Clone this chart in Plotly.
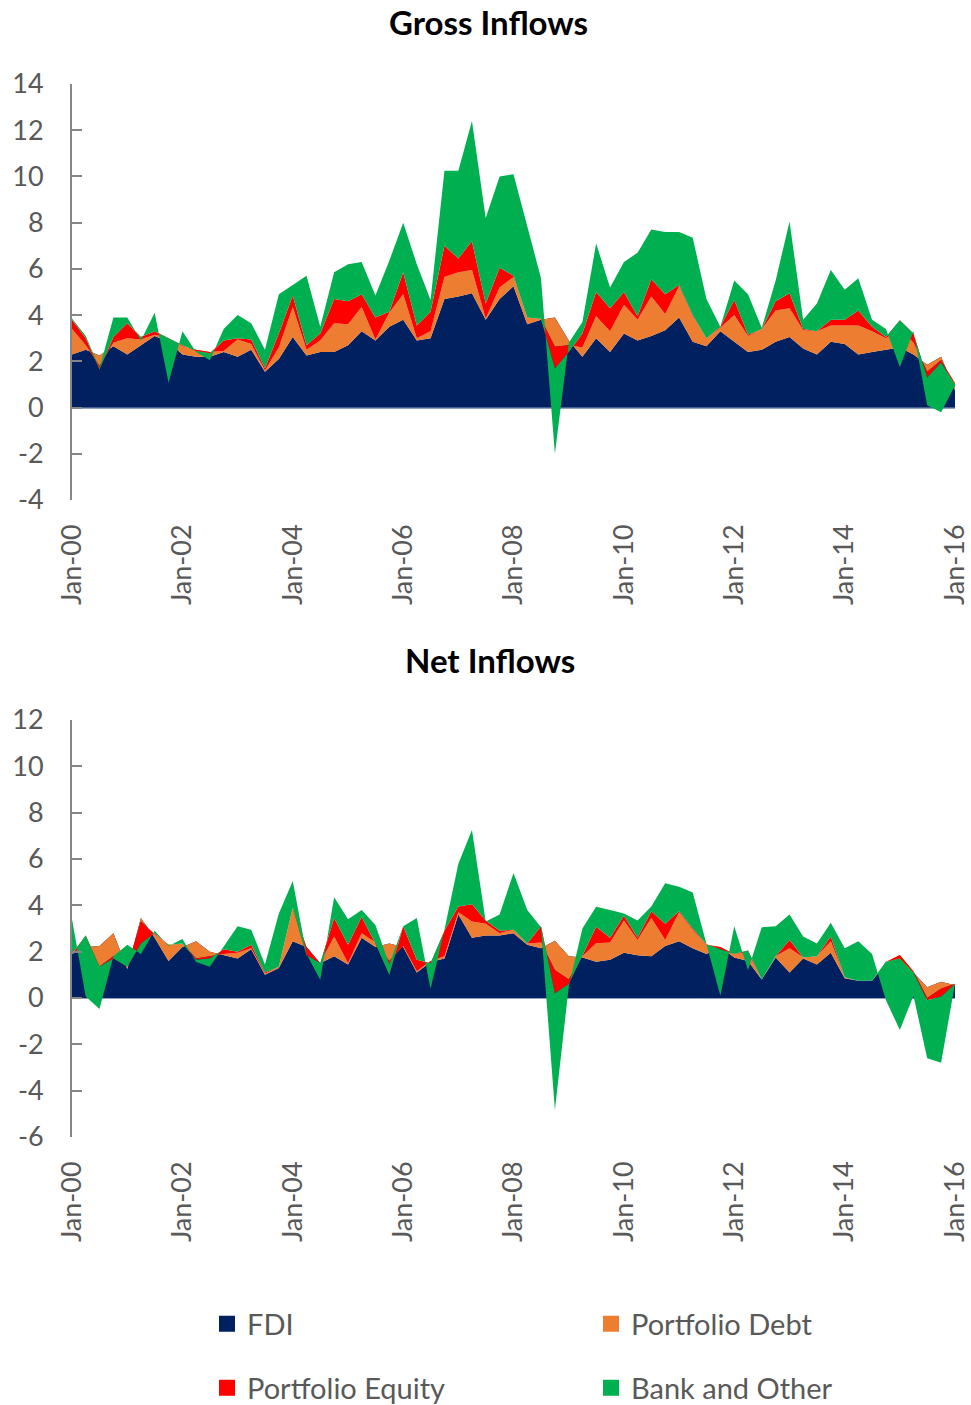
import pandas as pd
import plotly.graph_objects as go

# Quarterly dates Jan-00 .. Jan-16
quarters = [d.strftime("%Y-%m-%d") for d in pd.date_range("2000-01-01", "2016-01-01", freq="QS")]

series_names = ["FDI", "Portfolio Debt", "Portfolio Equity", "Bank and Other"]
series_colors = ["#002060", "#ED7D31", "#FF0000", "#00B050"]

# ---- Gross inflows (% of GDP) ----
gross_fdi = [2.3, 2.5, 2.25, 2.65, 2.3, 2.7, 3.1, 2.85, 2.3, 2.2, 2.2, 2.4, 2.2, 2.5, 1.55, 2.1,
             3.05, 2.25, 2.4, 2.4, 2.7, 3.3, 2.9, 3.5, 3.8, 2.9, 3.0, 4.7, 4.8, 4.95, 3.8, 4.7,
             5.25, 3.6, 3.8, 3.9, 2.9, 2.2, 3.0, 2.4, 3.2, 2.9, 3.1, 3.35, 3.9, 2.85, 2.65, 3.3,
             2.85, 2.4, 2.5, 2.85, 3.05, 2.55, 2.3, 2.85, 2.75, 2.3, 2.4, 2.5, 2.6, 2.3, 1.85, 2.2,
             0.75]
gross_debt = [1.1, 0.2, -0.45, 0.15, 0.7, 0.25, 0.05, 0.15, 0.35, 0.3, 0.2, 0.05, 0.75, 0.25, 0.05, 0.5,
              1.3, 0.25, 0.5, 1.25, 0.9, 1.05, 0.05, 0.6, 1.1, 0.1, 0.3, 0.95, 1.05, 1.0, 0.05, 0.5,
              0.4, 0.3, 0.02, -1.27, -0.2, 0.4, 0.95, 0.9, 1.25, 0.9, 1.7, 0.7, 1.35, 1.1, 0.35, 0.15,
              1.15, 0.7, 0.9, 1.35, 1.25, 0.8, 1.0, 0.7, 0.8, 1.25, 0.9, 0.5, 0.8, 0.5, -0.3, -0.15,
              0.3]
gross_equity = [0.4, 0.3, -0.15, 0.25, 0.65, 0.1, 0.15, 0.0, 0.05, -0.05, -0.05, 0.45, 0.05, 0.2, 0.1, 0.6,
                0.5, 0.2, 0.3, 1.05, 1.0, 0.55, 0.95, 0.05, 0.95, 0.55, 0.85, 1.35, 0.6, 1.25, 0.65, 0.85,
                0.05, 0.0, 0.02, -0.94, -0.3, 0.6, 1.05, 1.0, 0.55, 0.15, 0.75, 0.85, 0.05, 0.05, 0.0, 0.05,
                0.65, 0.05, 0.0, 0.4, 0.65, 0.05, 0.0, 0.25, 0.25, 0.65, 0.2, 0.05, 0.38, 0.4, -0.25, -0.1,
                -0.05]
gross_bank = [0.05, 0.1, 0.05, 0.85, 0.25, -0.15, 0.8, -1.93, 0.6, -0.05, -0.3, 0.5, 1.0, 0.7, 0.8, 1.7,
              0.45, 3.0, 0.3, 1.15, 1.6, 1.4, 0.95, 2.2, 2.15, 2.65, 0.5, 3.25, 3.8, 5.2, 3.7, 3.95,
              4.4, 3.9, 1.76, -3.69, 0.4, 0.5, 2.1, 0.9, 1.3, 2.75, 2.15, 2.7, 2.3, 3.35, 1.7, 0.0,
              0.85, 1.75, 0.05, 0.9, 3.1, 0.4, 1.2, 2.15, 1.3, 1.4, 0.3, 0.35, -2.02, 0.1, -1.2, -2.15,
              -0.05]

# ---- Net inflows (% of GDP) ----
net_fdi = [1.9, 2.2, 2.25, 2.8, 1.25, 3.45, 2.6, 1.6, 2.2, 2.45, 2.0, 1.85, 1.7, 2.1, 1.0, 1.3,
           2.45, 2.2, 1.5, 1.8, 1.45, 2.6, 2.2, 2.35, 2.2, 1.1, 1.55, 1.7, 3.6, 2.6, 2.7, 2.7,
           2.8, 2.3, 2.15, 2.47, 1.8, 1.75, 1.57, 1.65, 1.95, 1.85, 1.8, 2.25, 2.45, 2.15, 1.9, 2.2,
           1.75, 1.6, 0.8, 1.75, 1.1, 1.7, 1.45, 1.95, 0.85, 0.75, 0.75, 1.5, 1.5, 1.1, 0.46, 0.7,
           0.55]
net_debt = [0.0, 0.1, -0.89, -1.0, 0.1, -0.15, 0.15, 0.7, 0.15, -0.75, -0.2, 0.05, 0.25, 0.05, 0.05, 0.05,
            1.45, 0.0, 0.0, 0.85, 0.05, 0.2, 0.2, -0.75, 0.05, 0.05, 0.05, 0.1, 0.1, 0.7, 0.5, 0.1,
            0.15, 0.05, 0.25, -1.27, -1.0, 0.05, 0.79, 0.75, 1.4, 0.65, 1.65, 0.25, 1.25, 0.8, 0.4, 0.0,
            0.15, 0.35, 0.0, 0.05, 1.05, 0.05, 0.35, 0.5, 0.05, 0.0, 0.0, 0.05, 0.36, 0.05, -0.46, -0.3,
            0.07]
net_equity = [0.0, 0.4, 0.0, -0.1, 0.0, -0.95, 0.05, 0.0, 0.0, -0.05, -0.1, 0.2, 0.05, 0.15, 0.05, 0.0,
              0.0, -0.35, 0.0, 0.8, 0.8, 0.7, -0.05, -0.6, 0.85, 0.5, -0.1, 1.1, 0.25, 0.75, 0.15, 0.1,
              0.0, 0.0, 0.7, -1.0, -0.2, 0.05, 0.72, 0.2, 0.2, 0.1, 0.3, 0.7, 0.05, 0.05, 0.02, -0.1,
              0.0, 0.1, 0.0, 0.0, 0.35, 0.0, 0.0, 0.2, 0.0, 0.0, 0.0, 0.02, -0.16, -0.05, -0.1, -0.34,
              -0.02]
net_bank = [1.5, -2.63, -1.83, 0.1, 0.95, -0.45, 0.1, -0.05, 0.2, -0.1, -0.35, 0.1, 1.1, 0.65, 0.35, 2.3,
            1.15, 0.05, -0.71, 0.9, 1.1, 0.3, 0.8, 0.45, 0.0, 1.8, -1.1, 0.05, 1.85, 3.2, -0.05, 0.7,
            2.45, 1.45, -0.05, -5.03, -0.1, 1.15, 0.86, 1.2, 0.1, 0.75, 0.2, 1.75, 1.05, 1.55, -0.02, -2.0,
            1.2, -0.85, 2.25, 1.3, 1.1, 0.9, 0.55, 0.6, 1.25, 1.7, 1.15, -1.67, -3.08, -1.0, -2.5, -2.85,
            0.02]

# y-axis tick values (hyphen-minus labels as in the original)
gross_yticks = [-4, -2, 0, 2, 4, 6, 8, 10, 12, 14]
net_yticks = [-6, -4, -2, 0, 2, 4, 6, 8, 10, 12]

gross_series = [gross_fdi, gross_debt, gross_equity, gross_bank]
net_series = [net_fdi, net_debt, net_equity, net_bank]

W, H = 971, 1405
FONT = "Lato"
TXT = "#595959"
AXC = "#868686"

fig = go.Figure()

def add_stack(vals_list, xa, ya, group):
    for name, col, vals in zip(series_names, series_colors, vals_list):
        fig.add_trace(go.Scatter(
            x=quarters, y=vals, name=name, mode="lines", stackgroup=group,
            line=dict(width=0, color=col), fillcolor=col,
            xaxis=xa, yaxis=ya, showlegend=False, hoverinfo="skip"))

add_stack(gross_series, "x", "y", "gross")
add_stack(net_series, "x2", "y2", "net")

# legend entries (square markers), one legend box per entry
legend_ids = ["legend", "legend2", "legend3", "legend4"]
for name, col, lid in zip(series_names, series_colors, legend_ids):
    fig.add_trace(go.Scatter(
        x=[None], y=[None], mode="markers", name=name,
        marker=dict(symbol="square", size=19, color=col),
        showlegend=True, legend=lid, xaxis="x", yaxis="y"))

def px_x(p):
    return p / W

def px_y(p):
    return 1 - p / H

xcommon = dict(
    type="date", range=["2000-01-01", "2016-01-01"],
    tickvals=[f"{y}-01-01" for y in range(2000, 2017, 2)],
    tickformat="%b-%y", tickangle=-90, showgrid=False, showline=False,
    zeroline=False, ticks="", ticklabelstandoff=18, automargin=False,
    tickfont=dict(family=FONT, size=27, color=TXT),
)
ycommon = dict(
    showgrid=False, showline=True, linecolor=AXC, linewidth=2,
    ticks="inside", ticklen=10, tickwidth=2, tickcolor=AXC,
    zeroline=True, zerolinecolor="#8FA2C0", zerolinewidth=1.5,
    ticklabelstandoff=21, automargin=False,
    tickfont=dict(family=FONT, size=27, color=TXT),
)

# legend positions (left edge, row centre) in pixels
legend_pos = [(207, 1324), (591, 1324), (207, 1388), (591, 1388)]
legend_layout = {}
for lid, (lx, ly) in zip(legend_ids, legend_pos):
    legend_layout[lid] = dict(
        orientation="h", xref="container", yref="container",
        x=px_x(lx), xanchor="left", y=px_y(ly), yanchor="middle",
        font=dict(family=FONT, size=29, color=TXT),
        bgcolor="rgba(0,0,0,0)", itemwidth=30, traceorder="normal")

fig.update_layout(
    width=W, height=H,
    margin=dict(l=0, r=0, t=0, b=0, autoexpand=False),
    paper_bgcolor="white", plot_bgcolor="white",
    xaxis=dict(domain=[px_x(72), px_x(955)], anchor="y", **xcommon),
    yaxis=dict(domain=[px_y(500), px_y(84)], range=[-4, 14], anchor="x",
               tickvals=gross_yticks, ticktext=[str(v) for v in gross_yticks], **ycommon),
    xaxis2=dict(domain=[px_x(72), px_x(955)], anchor="y2", **xcommon),
    yaxis2=dict(domain=[px_y(1137), px_y(720)], range=[-6, 12], anchor="x2",
                tickvals=net_yticks, ticktext=[str(v) for v in net_yticks], **ycommon),
    annotations=[
        dict(text="Gross Inflows", x=px_x(489), y=px_y(22), xref="paper", yref="paper",
             showarrow=False, xanchor="center", yanchor="middle",
             font=dict(family=FONT, size=33, color="#000000", weight="bold")),
        dict(text="Net Inflows", x=px_x(490), y=px_y(660), xref="paper", yref="paper",
             showarrow=False, xanchor="center", yanchor="middle",
             font=dict(family=FONT, size=33, color="#000000", weight="bold")),
    ],
    **legend_layout,
)

fig.write_html("out.html", config={"displayModeBar": False},
               post_script="document.body.style.margin='0';document.body.style.overflow='hidden';")
